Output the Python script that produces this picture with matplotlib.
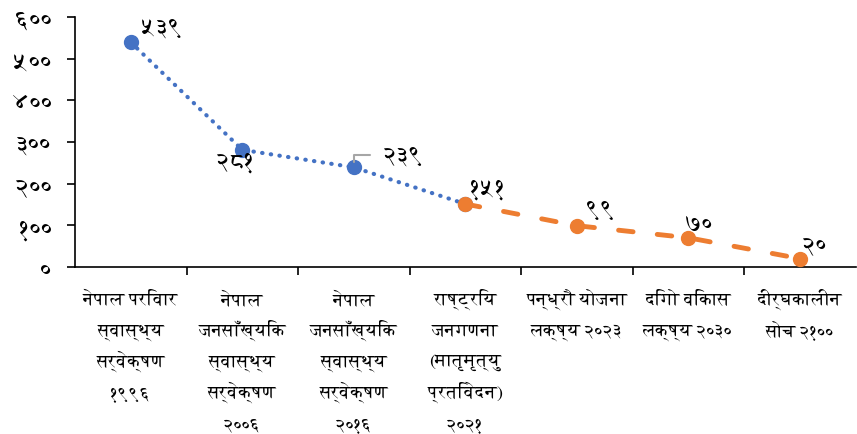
import matplotlib
matplotlib.use('Agg')
import matplotlib.pyplot as plt
from matplotlib import font_manager
from matplotlib.ft2font import FT2Font

categories = [
    'नेपाल परिवार\nस्वास्थ्य\nसर्वेक्षण\n१९९६',
    'नेपाल\nजनसाँख्यिक\nस्वास्थ्य\nसर्वेक्षण\n२००६',
    'नेपाल\nजनसाँख्यिक\nस्वास्थ्य\nसर्वेक्षण\n२०१६',
    'राष्ट्रिय\nजनगणना\n(मातृमृत्यु\nप्रतिवेदन)\n२०२१',
    'पन्ध्रौ योजना\nलक्ष्य २०२३',
    'दिगो विकास\nलक्ष्य २०३०',
    'दीर्घकालीन\nसोच २१००',
]
# surveys (blue) and targets (orange), None where a series has no value
surveys = [539, 281, 239, 151, None, None, None]
targets = [None, None, None, 151, 99, 70, 20]
value_labels = ['५३९', '२८१', '२३९', '१५१', '९९', '७०', '२०']
yticks = [0, 100, 200, 300, 400, 500, 600]
ytick_labels = ['०', '१००', '२००', '३००', '४००', '५००', '६००']

# label offsets in pixels from each point
label_offsets = [(32, 15), (-6, -11), (50, 12), (23, 16), (24, 17), (11, 13), (15, 13)]


def find_devanagari():
    found = []
    for f in font_manager.fontManager.ttflist:
        try:
            cmap = FT2Font(f.fname).get_charmap()
        except Exception:
            continue
        if 0x0928 in cmap and 0x0966 in cmap:
            found.append(f.name)
    for name in found:
        if 'Devanagari' in name or 'Serif' in name:
            return name
    return found[0] if found else None


dev = find_devanagari()
fams = [dev, 'DejaVu Sans'] if dev else ['DejaVu Sans']
plt.rcParams['font.family'] = fams

BLUE = '#4472C4'
ORANGE = '#ED7D31'

fig = plt.figure(figsize=(8.57, 4.35), dpi=100)
ax = fig.add_axes([0.0875, 0.384, 0.911, 0.575])

x = list(range(len(categories)))
xs = [i for i, v in zip(x, surveys) if v is not None]
ys = [v for v in surveys if v is not None]
ax.plot(xs, ys, color=BLUE, lw=3, linestyle=(0, (0.1, 2)),
        dash_capstyle='round', marker='o', markersize=10, zorder=2)
xt = [i for i, v in zip(x, targets) if v is not None]
yt = [v for v in targets if v is not None]
ax.plot(xt, yt, color=ORANGE, lw=3.5, linestyle=(0, (3, 5)),
        dash_capstyle='round', marker='o', markersize=10, zorder=3)

vals = [s if s is not None else t for s, t in zip(surveys, targets)]
for i, (v, lab, off) in enumerate(zip(vals, value_labels, label_offsets)):
    if i == 2:
        ax.annotate(lab, (i, v), xytext=off, textcoords='offset pixels',
                    ha='center', va='center', fontsize=17, zorder=4,
                    arrowprops=dict(arrowstyle='-', color='#A6A6A6', lw=1.5,
                                    connectionstyle='angle,angleA=0,angleB=90,rad=0',
                                    shrinkA=8, shrinkB=4, relpos=(0, 0.5)))
    else:
        ax.annotate(lab, (i, v), xytext=off, textcoords='offset pixels',
                    ha='center', va='center', fontsize=17, zorder=4)

ax.set_xlim(-0.5, 6.5)
ax.set_ylim(0, 600)
ax.set_yticks(yticks)
ax.set_yticklabels(ytick_labels, fontsize=18)

# category labels, one text per line so every line sits on the same grid
ax.set_xticks(x)
ax.set_xticklabels([])
for i, cat in enumerate(categories):
    for j, line in enumerate(cat.split('\n')):
        ax.annotate(line, xy=(i, 0), xycoords=('data', 'axes fraction'),
                    xytext=(0, -37 - 31 * j), textcoords='offset pixels',
                    ha='center', va='baseline', fontsize=13,
                    annotation_clip=False)

ax.set_xticks([i + 0.5 for i in x[:-1]], minor=True)
ax.tick_params(axis='x', which='major', length=0)
ax.tick_params(axis='x', which='minor', length=6, width=1.2, direction='out')
ax.tick_params(axis='y', length=6, width=1.2, pad=10)

for s in ['top', 'right']:
    ax.spines[s].set_visible(False)
for s in ['left', 'bottom']:
    ax.spines[s].set_linewidth(1.2)

fig.savefig('out.png', dpi=100)
